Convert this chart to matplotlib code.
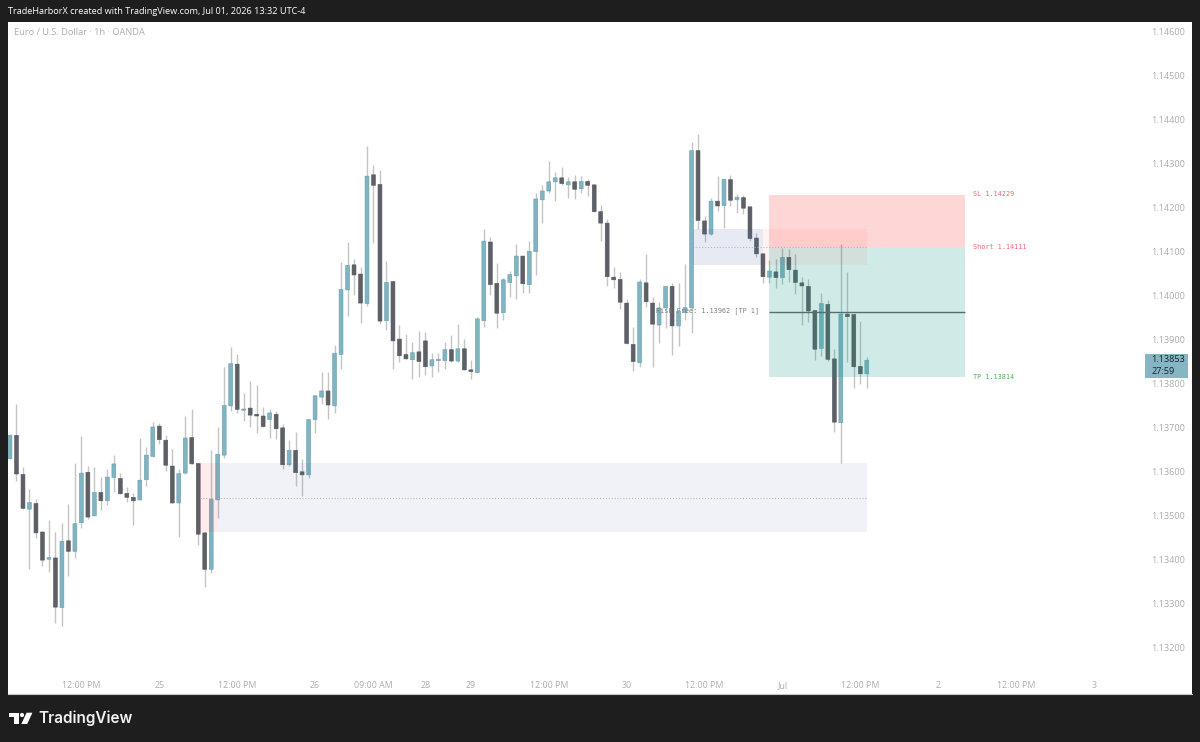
"""EUR/USD 1h TradingView snapshot with a short setup and two marked zones."""

import matplotlib

matplotlib.use("Agg")
import matplotlib.pyplot as plt
import numpy as np
from matplotlib.patches import Circle, Polygon, Rectangle

# Candle prices in units of 0.00001
OPEN = [113629, 113682, 113593, 113514, 113527, 113462, 113400, 113403, 113290, 113442,
        113418, 113483, 113598, 113499, 113552, 113533, 113586, 113584, 113550, 113541,
        113535, 113581, 113634, 113703, 113671, 113612, 113528, 113596, 113677, 113618,
        113460, 113377, 113535, 113637, 113749, 113844, 113739, 113744, 113730, 113726,
        113718, 113730, 113699, 113615, 113648, 113599, 113592, 113718, 113769, 113783,
        113749, 113866, 114013, 114070, 114049, 113982, 114275, 114253, 113943, 114032,
        113901, 113866, 113854, 113872, 113897, 113840, 113852, 113852, 113877, 113851,
        113879, 113831, 113825, 113943, 114122, 114028, 113961, 114030, 114045, 114090,
        114025, 114100, 114218, 114238, 114259, 114268, 114252, 114259, 114243, 114260,
        114252, 114191, 114165, 114042, 114037, 113983, 113889, 113847, 114029, 113983,
        113933, 113972, 114021, 113931, 113961, 113972, 114330, 114170, 114140, 114215,
        114205, 114264, 114218, 114223, 114202, 114131, 114095, 114042, 114054, 114041,
        114087, 114058, 114029, 114021, 113966, 113880, 113980, 113856, 113711, 113958,
        113957, 113839, 113822]
HIGH = [113685, 113753, 113611, 113559, 113538, 113465, 113489, 113462, 113482, 113526,
        113618, 113680, 113612, 113609, 113587, 113605, 113637, 113596, 113564, 113551,
        113676, 113656, 113712, 113709, 113682, 113652, 113605, 113726, 113742, 113619,
        113461, 113648, 113700, 113838, 113882, 113867, 113778, 113806, 113797, 113746,
        113741, 113737, 113708, 113671, 113690, 113628, 113719, 113774, 113825, 113825,
        113888, 114077, 114122, 114083, 114064, 114341, 114298, 114285, 114079, 114034,
        113932, 113913, 113894, 113919, 113918, 113870, 113870, 113895, 113910, 113935,
        113902, 113854, 113951, 114151, 114133, 114074, 114041, 114057, 114117, 114091,
        114124, 114233, 114251, 114307, 114282, 114292, 114269, 114275, 114272, 114265,
        114254, 114206, 114174, 114064, 114053, 113992, 113929, 114038, 114095, 113996,
        113985, 114022, 114028, 114029, 114071, 114349, 114367, 114182, 114223, 114272,
        114266, 114275, 114232, 114228, 114204, 114142, 114097, 114081, 114083, 114108,
        114105, 114095, 114042, 114038, 113967, 114005, 113990, 113879, 114118, 114054,
        113959, 113942, 113861]
LOW = [113628, 113578, 113514, 113378, 113448, 113385, 113372, 113254, 113248, 113361,
       113402, 113470, 113491, 113498, 113512, 113524, 113552, 113548, 113530, 113479,
       113534, 113567, 113632, 113663, 113601, 113527, 113450, 113595, 113616, 113432,
       113336, 113368, 113494, 113631, 113738, 113733, 113715, 113700, 113688, 113701,
       113677, 113674, 113606, 113612, 113567, 113544, 113586, 113688, 113753, 113719,
       113733, 113832, 113954, 114002, 113938, 113977, 114119, 113936, 113922, 113832,
       113850, 113855, 113811, 113815, 113819, 113814, 113825, 113833, 113848, 113850,
       113831, 113810, 113824, 113929, 114001, 113927, 113944, 113996, 113992, 114007,
       114007, 114046, 114165, 114233, 114215, 114251, 114223, 114220, 114234, 114227,
       114190, 114124, 114022, 114018, 113970, 113890, 113828, 113837, 113974, 113837,
       113892, 113927, 113865, 113886, 113944, 113914, 114152, 114123, 114139, 114192,
       114155, 114205, 114189, 114186, 114125, 114087, 114029, 114029, 114018, 114027,
       114030, 114004, 113933, 113941, 113853, 113863, 113852, 113690, 113618, 113848,
       113790, 113799, 113790]
CLOSE = [113682, 113594, 113516, 113529, 113460, 113398, 113404, 113291, 113441, 113418,
         113481, 113596, 113496, 113552, 113533, 113587, 113617, 113549, 113541, 113533,
         113580, 113637, 113701, 113672, 113614, 113528, 113595, 113676, 113617, 113457,
         113377, 113536, 113639, 113750, 113845, 113741, 113742, 113728, 113726, 113702,
         113733, 113697, 113615, 113648, 113597, 113592, 113718, 113772, 113783, 113751,
         113869, 114014, 114069, 114047, 113983, 114272, 114251, 113942, 114030, 113897,
         113863, 113856, 113870, 113850, 113838, 113854, 113855, 113877, 113851, 113879,
         113831, 113827, 113947, 114124, 114025, 113960, 114036, 114048, 114090, 114027,
         114101, 114220, 114238, 114259, 114268, 114255, 114259, 114242, 114260, 114251,
         114191, 114165, 114043, 114036, 113985, 113891, 113850, 114031, 113986, 113935,
         113972, 114021, 113931, 113964, 113973, 114330, 114171, 114140, 114215, 114204,
         114265, 114217, 114224, 114199, 114130, 114095, 114043, 114056, 114041, 114087,
         114059, 114030, 114022, 113965, 113878, 113982, 113855, 113712, 113958, 113952,
         113838, 113822, 113853]

PRICE_TICKS = [1.146, 1.145, 1.144, 1.143, 1.142, 1.141, 1.14, 1.139, 1.138, 1.137,
               1.136, 1.135, 1.134, 1.133, 1.132]
TIME_TICKS = [11, 23, 35, 47, 56, 64, 71, 83, 95, 107, 119, 131, 143, 155, 167]
TIME_LABELS = ["12:00 PM", "25", "12:00 PM", "26", "09:00 AM", "28", "29", "12:00 PM",
               "30", "12:00 PM", "Jul", "12:00 PM", "2", "12:00 PM", "3"]

STOP = 1.14229
ENTRY = 1.14111
RISK_FREE = 1.13962
TARGET = 1.13814
UPPER_ZONE = (1.14151, 1.14111, 1.14070)
LOWER_ZONE = (1.13619, 1.13539, 1.13461)

UP = "#7FB4C2"
DOWN = "#5D6167"
WICK = "#C4C4C4"
FRAME = "#1E1E1E"
AXIS_TEXT = "#ADADAD"
NAVY = (0.25, 0.35, 0.60)
RED = (1.0, 0.0, 0.0)
GREEN = (0.03, 0.60, 0.51)


def zone(ax, x0, x1, y0, y1, color, alpha):
    ax.add_patch(Rectangle((x0, y0), x1 - x0, y1 - y0, facecolor=color, alpha=alpha,
                           edgecolor="none", zorder=4))


plt.rcParams["font.family"] = ["Open Sans", "DejaVu Sans"]

fig = plt.figure(figsize=(12, 7.42), dpi=100, facecolor=FRAME)
ax = fig.add_axes([8 / 1200, 48 / 742, 1184 / 1200, 672 / 742], facecolor="white")

o = np.array(OPEN) / 1e5
h = np.array(HIGH) / 1e5
l = np.array(LOW) / 1e5
c = np.array(CLOSE) / 1e5
xs = np.arange(len(o))
is_up = c >= o
colors = [UP if u else DOWN for u in is_up]
edges = ["#6E9FAD" if u else "#54585F" for u in is_up]

ax.vlines(xs, l, h, colors=WICK, linewidth=1.0, zorder=2)
bars = ax.bar(xs, np.abs(c - o), bottom=np.minimum(o, c), width=0.6, color=colors,
              edgecolor=edges, linewidth=0.4, zorder=3)
for bar in bars:
    # no pixel snapping, the bodies stay evenly wide
    bar.set_snap(False)

# Lower zone: pink start, then blue to the right
zone(ax, 29.3, 32.05, LOWER_ZONE[2], LOWER_ZONE[0], RED, 0.08)
zone(ax, 32.05, 132.05, LOWER_ZONE[2], LOWER_ZONE[0], NAVY, 0.075)
ax.hlines(LOWER_ZONE[1], 29.3, 132.05, colors="#B0B0B0", linestyles=(0, (1, 2)),
          linewidth=0.7, zorder=5)

# Short position box
zone(ax, 117, 147.2, ENTRY, STOP, RED, 0.16)
zone(ax, 117, 147.2, TARGET, ENTRY, GREEN, 0.19)
ax.hlines(RISK_FREE, 117, 147.2, colors="#54706C", linewidth=1.0, zorder=5)

# Upper zone: blue start, then pink over the position box
zone(ax, 105.2, 116, UPPER_ZONE[2], UPPER_ZONE[0], NAVY, 0.12)
zone(ax, 116, 132.05, UPPER_ZONE[2], UPPER_ZONE[0], RED, 0.05)
ax.hlines(UPPER_ZONE[1], 105.2, 132.05, colors="#B0B0B0", linestyles=(0, (1, 2)),
          linewidth=0.7, zorder=5)

mono = {"family": "DejaVu Sans Mono", "fontsize": 4.9, "va": "center", "zorder": 6}
ax.text(148.4, STOP + 0.00002, "SL 1.14229", color="#F7636F", **mono)
ax.text(148.4, ENTRY, "Short 1.14111", color="#F7636F", **mono)
ax.text(148.4, TARGET, "TP 1.13814", color="#4CB050", **mono)
ax.text(115.4, RISK_FREE + 0.00003, "Risk Free: 1.13962 [TP 1]", color="#808080",
        ha="right", **mono)

ax.set_xlim(-0.308, 182.1)
ax.set_ylim(1.130933, 1.146227)
ax.set_xticks(TIME_TICKS, TIME_LABELS)
ax.yaxis.tick_right()
ax.set_yticks(PRICE_TICKS, [f"{p:.5f}" for p in PRICE_TICKS])
ax.tick_params(axis="x", length=0, pad=-4.4, labelsize=6.4, labelcolor=AXIS_TEXT)
ax.tick_params(axis="y", length=0, pad=-29.5, labelsize=6.6, labelcolor=AXIS_TEXT)
for label in ax.get_xticklabels():
    label.set_va("baseline")
for side in ["top", "left", "right"]:
    ax.spines[side].set_visible(False)
ax.spines["bottom"].set_color("#C8C8C8")
ax.spines["bottom"].set_linewidth(0.8)

ax.text(0.0051, 0.9845, "Euro / U.S. Dollar · 1h · OANDA", transform=ax.transAxes,
        color=AXIS_TEXT, fontsize=6.7, va="center")

# Header, footer and price badge, in figure pixels
chrome = fig.add_axes([0, 0, 1, 1], facecolor="none", zorder=10)
chrome.set_xlim(0, 1200)
chrome.set_ylim(742, 0)
chrome.axis("off")
chrome.text(8, 11.5, "TradeHarborX created with TradingView.com, Jul 01, 2026 13:32 UTC-4",
            color="white", fontsize=6.55, va="center")

chrome.add_patch(Rectangle((1145, 353.5), 43, 24.5, facecolor="#86B5C3", edgecolor="none"))
chrome.text(1151, 360, f"{c[-1]:.5f}", color="#16262C", fontsize=6.6, va="center")
chrome.text(1151, 371, "27:59", color="#16262C", fontsize=6.6, va="center")

chrome.add_patch(Polygon([(9.3, 712.7), (18.7, 712.7), (18.7, 724), (14, 724), (14, 716.6),
                          (9.3, 716.6)], facecolor="white", edgecolor="none"))
chrome.add_patch(Circle((22, 715), 2.1, facecolor="white", edgecolor="none"))
chrome.add_patch(Polygon([(26.6, 712.7), (32.4, 712.7), (27.2, 724), (21.3, 724)],
                         facecolor="white", edgecolor="none"))
chrome.text(38.5, 718.5, "TradingView", color="#F2F2F2", fontsize=11, weight="semibold",
            family=["Inter", "DejaVu Sans"], va="center")

fig.savefig("out.png", dpi=100, facecolor=FRAME)
